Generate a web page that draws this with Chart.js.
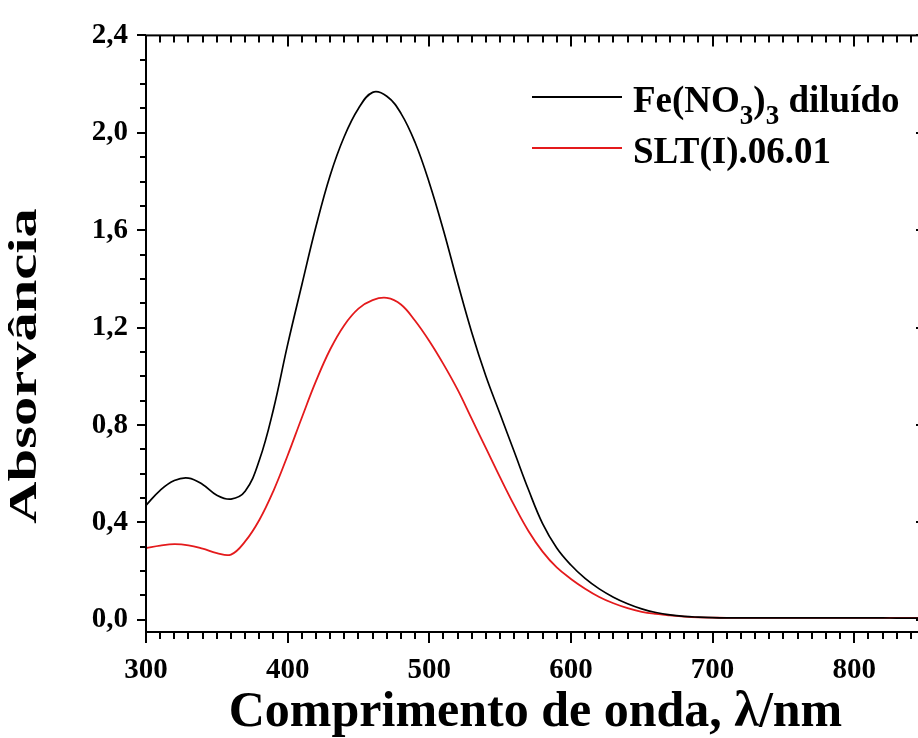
<!DOCTYPE html>
<html>
<head>
<meta charset="utf-8">
<title>Absorvância</title>
<script src="https://cdn.jsdelivr.net/npm/chart.js@4.4.1/dist/chart.umd.min.js"></script>
<style>
  html, body { margin: 0; padding: 0; background: #fff; overflow: hidden; }
  #wrap { width: 940px; height: 738px; }
</style>
</head>
<body>
<div id="wrap"><canvas id="spectrum" width="940" height="738"></canvas></div>
<script>
// wavelengths (nm) and absorbance
const wavelengths = [
  300, 310, 320, 330, 340, 350, 360, 370, 380, 390,
  400, 410, 420, 430, 440, 450, 460, 470, 480, 490,
  500, 510, 520, 530, 540, 550, 560, 570, 580, 590,
  600, 610, 620, 630, 640, 650, 660, 670, 680, 690,
  700, 710, 720, 730, 740, 750, 760, 770, 780, 790,
  800, 810, 820, 830, 840, 850
];
const feDiluted = [
  0.470, 0.532, 0.572, 0.582, 0.556, 0.512, 0.496, 0.528, 0.655, 0.865,
  1.130, 1.375, 1.615, 1.825, 1.985, 2.100, 2.166, 2.150, 2.080, 1.960,
  1.795, 1.600, 1.385, 1.180, 1.000, 0.845, 0.690, 0.535, 0.395, 0.295,
  0.225, 0.170, 0.127, 0.093, 0.066, 0.045, 0.030, 0.020, 0.014, 0.011,
  0.009, 0.008, 0.008, 0.008, 0.008, 0.008, 0.008, 0.008, 0.008, 0.008,
  0.008, 0.008, 0.008, 0.007, 0.007, 0.007
];
const sltSample = [
  0.295, 0.305, 0.311, 0.306, 0.292, 0.274, 0.268, 0.322, 0.410, 0.530,
  0.675, 0.830, 0.980, 1.110, 1.210, 1.278, 1.313, 1.322, 1.295, 1.228,
  1.145, 1.050, 0.945, 0.825, 0.705, 0.585, 0.470, 0.365, 0.280, 0.215,
  0.168, 0.128, 0.094, 0.068, 0.048, 0.033, 0.024, 0.018, 0.013, 0.010,
  0.009, 0.008, 0.008, 0.008, 0.008, 0.008, 0.008, 0.008, 0.008, 0.008,
  0.008, 0.008, 0.008, 0.008, 0.008, 0.008
];
const xTickLabels = [300, 400, 500, 600, 700, 800];
const yTickLabels = [0, 0.4, 0.8, 1.2, 1.6, 2.0, 2.4];
// legend labels, split so the subscripts can be drawn smaller
const legendLabels = [
  [['Fe(NO', false], ['3', true], [')', false], ['3', true], [' diluído', false]],
  [['SLT(I).06.01', false]]
];

const SERIF = "'Liberation Serif', 'Times New Roman', serif";

// box around the plot + Origin style ticks (out on bottom/left, in on top/right)
const frameTicks = {
  id: 'frameTicks',
  afterDatasetsDraw(chart) {
    const { ctx, chartArea: a, scales: { x, y } } = chart;
    ctx.save();
    ctx.strokeStyle = '#000';
    ctx.lineWidth = 2;
    ctx.strokeRect(a.left, a.top, a.right - a.left, a.bottom - a.top);
    ctx.beginPath();
    for (let v = 300; v <= 850; v += 10) {
      const px = Math.round(x.getPixelForValue(v));
      const len = v % 100 === 0 ? 11 : 7;
      ctx.moveTo(px, a.bottom); ctx.lineTo(px, a.bottom + len);
      ctx.moveTo(px, a.top); ctx.lineTo(px, a.top + len);
    }
    for (let i = 0; i <= 24; i++) {
      const py = Math.round(y.getPixelForValue(i / 10));
      const len = i % 4 === 0 ? 9 : 6;
      ctx.moveTo(a.left - len, py); ctx.lineTo(a.left, py);
      ctx.moveTo(a.right - len, py); ctx.lineTo(a.right, py);
    }
    ctx.stroke();
    ctx.restore();
  }
};

// y title is stretched along its length in the original
const yTitle = {
  id: 'yTitle',
  afterDraw(chart) {
    const ctx = chart.ctx;
    ctx.save();
    ctx.translate(26, 366);
    ctx.rotate(-Math.PI / 2);
    ctx.scale(1.5, 1);
    ctx.font = 'bold 39px ' + SERIF;
    ctx.fillStyle = '#000';
    ctx.textAlign = 'center';
    ctx.textBaseline = 'middle';
    ctx.fillText('Absorvância', 0, 0);
    ctx.restore();
  }
};

// legend with subscripts
const subLegend = {
  id: 'subLegend',
  afterDraw(chart) {
    const ctx = chart.ctx;
    ctx.save();
    chart.data.datasets.forEach((ds, i) => {
      const ly = 97 + i * 51;
      ctx.strokeStyle = ds.borderColor;
      ctx.lineWidth = 2;
      ctx.beginPath();
      ctx.moveTo(532, ly); ctx.lineTo(622, ly);
      ctx.stroke();
      let tx = 633;
      ctx.fillStyle = '#000';
      ctx.textBaseline = 'alphabetic';
      legendLabels[i].forEach(([txt, sub]) => {
        ctx.font = 'bold ' + (sub ? 27 : 37) + 'px ' + SERIF;
        ctx.fillText(txt, tx, ly + 15 + (sub ? 12 : 0));
        tx += ctx.measureText(txt).width;
      });
    });
    ctx.restore();
  }
};

const tickFont = { family: SERIF, weight: 'bold', size: 29 };

new Chart(document.getElementById('spectrum'), {
  type: 'line',
  data: {
    labels: wavelengths,
    datasets: [{
      label: 'Fe(NO₃)₃ diluído',
      data: wavelengths.map((w, i) => ({ x: w, y: feDiluted[i] })),
      borderColor: '#000000',
      borderWidth: 1.7,
      pointRadius: 0,
      tension: 0.4
    }, {
      label: 'SLT(I).06.01',
      data: wavelengths.map((w, i) => ({ x: w, y: sltSample[i] })),
      borderColor: '#e41a1c',
      borderWidth: 1.8,
      pointRadius: 0,
      tension: 0.4
    }]
  },
  options: {
    responsive: false,
    animation: false,
    devicePixelRatio: 1,
    layout: { padding: { top: 28, right: 15, left: 0, bottom: 0 } },
    plugins: { legend: { display: false }, tooltip: { enabled: false } },
    scales: {
      x: {
        type: 'linear', min: 300, max: 850,
        afterBuildTicks: s => { s.ticks = xTickLabels.map(v => ({ value: v })); },
        afterFit: s => { s.height = 106; },
        grid: { display: false, drawTicks: false },
        border: { display: false },
        ticks: { font: tickFont, color: '#000', padding: 21, maxRotation: 0, autoSkip: false },
        title: {
          display: true,
          text: 'Comprimento de onda, λ/nm',
          color: '#000',
          font: { family: SERIF, weight: 'bold', size: 50, lineHeight: 1 },
          padding: { top: 0, bottom: 0 }
        }
      },
      y: {
        min: -0.05, max: 2.4,
        afterBuildTicks: s => { s.ticks = yTickLabels.map(v => ({ value: v })); },
        afterFit: s => { s.width = 146; },
        grid: { display: false, drawTicks: false },
        border: { display: false },
        ticks: {
          font: tickFont, color: '#000', padding: 18,
          callback: v => v.toFixed(1).replace('.', ',')
        }
      }
    }
  },
  plugins: [frameTicks, yTitle, subLegend]
});
</script>
</body>
</html>
